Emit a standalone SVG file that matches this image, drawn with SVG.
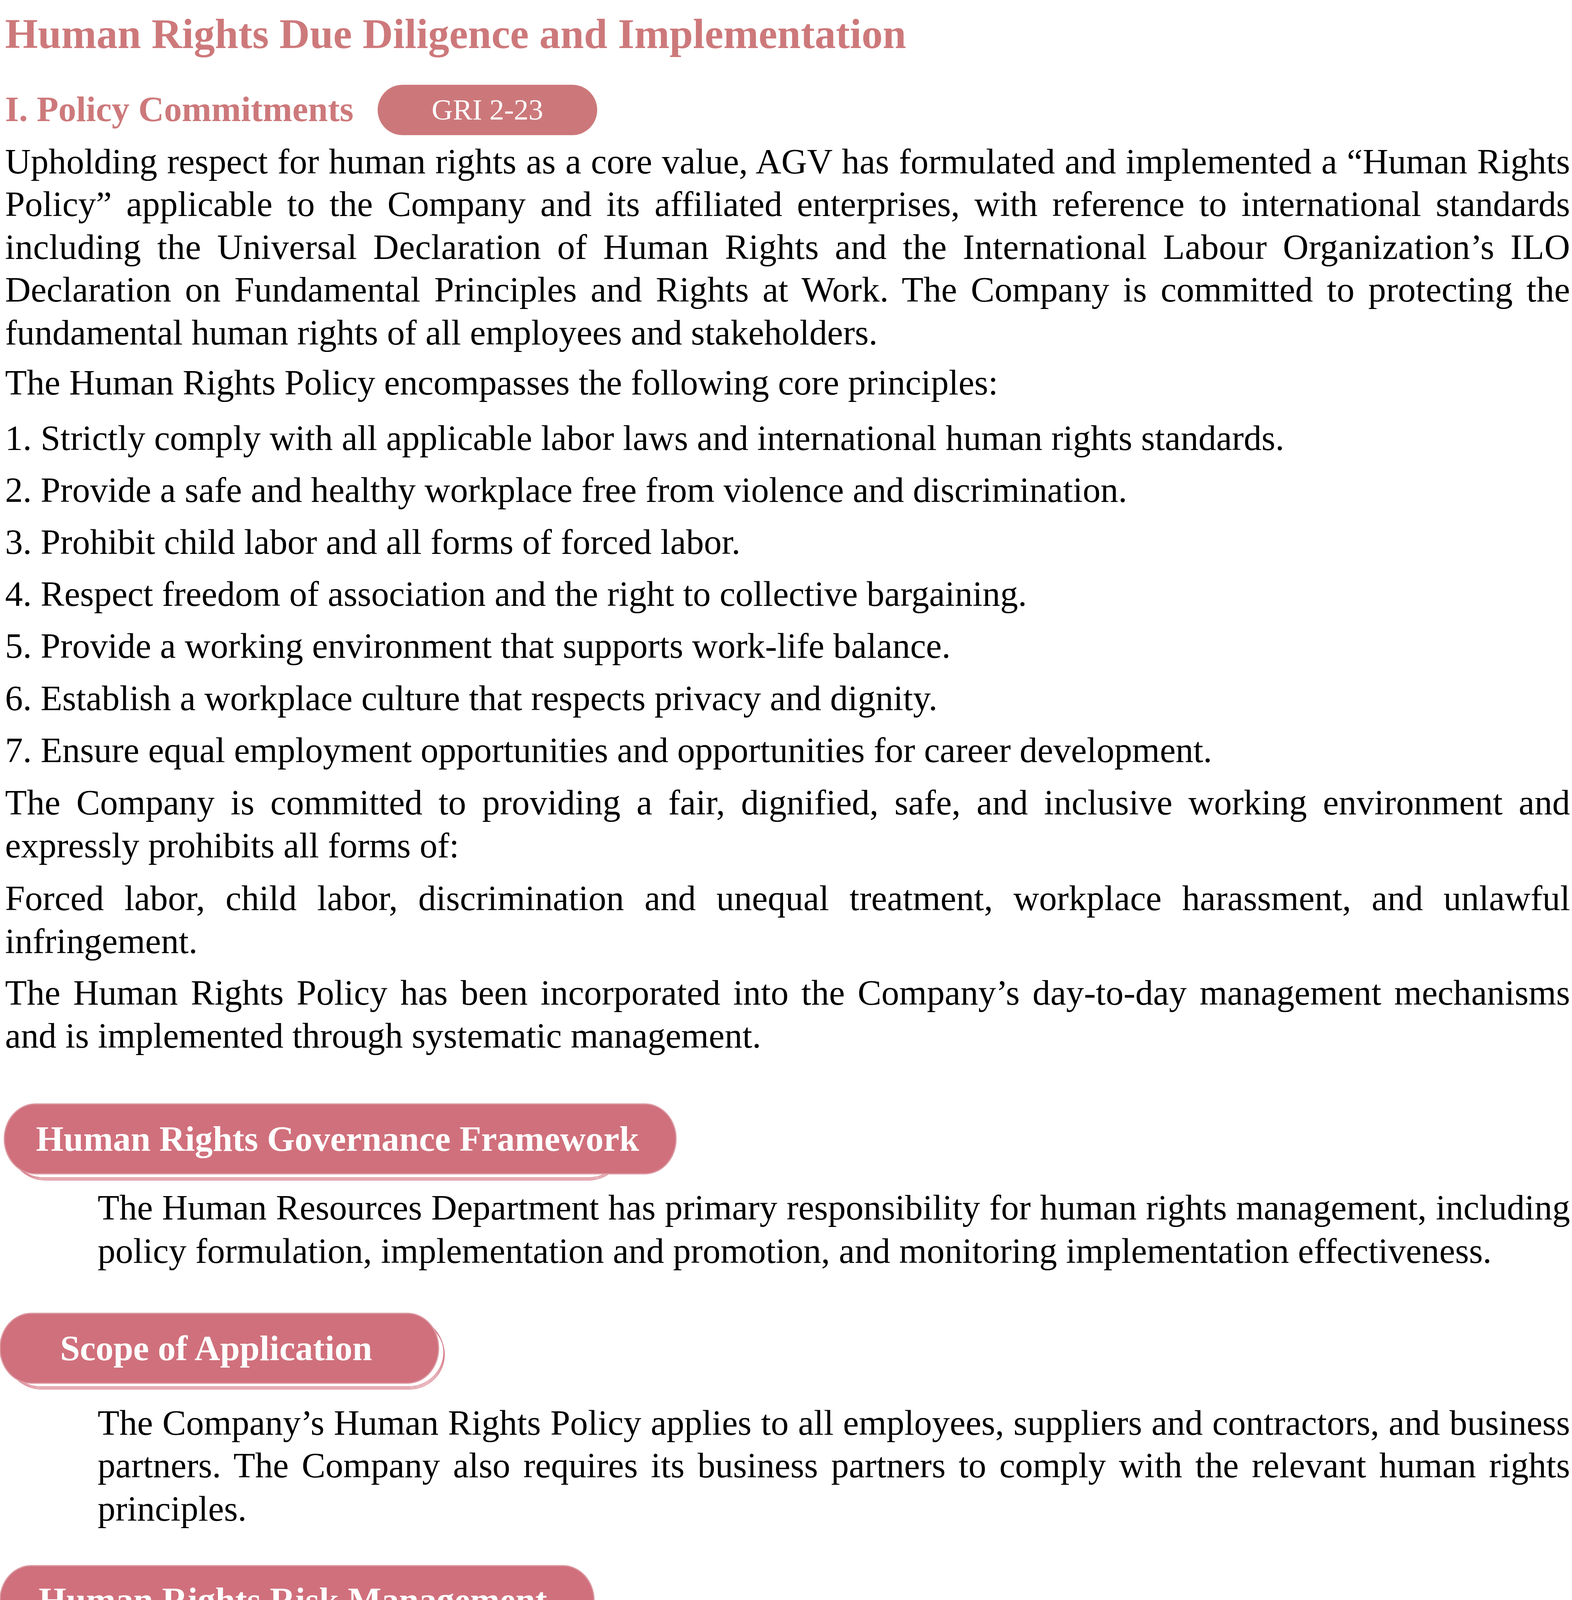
<svg xmlns="http://www.w3.org/2000/svg" width="4025" height="5148" viewBox="0 0 4025 5148">
<style>
text{font-family:"Liberation Serif","Times New Roman",serif}
.title{font-size:108px;font-weight:bold;fill:#cd797b}
.sec{font-size:91px;font-weight:bold;fill:#cd797b}
.body{font-size:91px;fill:#000}
.pilltxt{font-size:91px;font-weight:bold;fill:#fff}
.gri{font-size:75px;fill:#fff}
.pill{fill:#d0707c;stroke:#dc9ba4;stroke-width:3}
.back{fill:none;stroke:#d8828e;stroke-width:1.8}
</style>
<rect width="4025" height="5148" fill="#fff"/>
<g id="connectors"/>
<g id="title">
<text class="title" x="13" y="123">Human Rights Due Diligence and Implementation</text>
</g>
<g id="section-policy">
<text class="sec" x="13" y="310">I. Policy Commitments</text>
</g>
<g id="gri-badge">
<rect x="967" y="217" width="562" height="129" rx="64" ry="64" fill="#cc787b"/>
<text class="gri" x="1248" y="306" text-anchor="middle">GRI 2-23</text>
</g>
<g id="policy-text">
<text class="body" x="13" y="444" textLength="4007" lengthAdjust="spacing" style="word-spacing:2px">Upholding respect for human rights as a core value, AGV has formulated and implemented a “Human Rights</text>
<text class="body" x="13" y="553" textLength="4007" lengthAdjust="spacing" style="word-spacing:14.7px">Policy” applicable to the Company and its affiliated enterprises, with reference to international standards</text>
<text class="body" x="13" y="663" textLength="4007" lengthAdjust="spacing" style="word-spacing:17.6px">including the Universal Declaration of Human Rights and the International Labour Organization’s ILO</text>
<text class="body" x="13" y="772" textLength="4007" lengthAdjust="spacing" style="word-spacing:12.3px">Declaration on Fundamental Principles and Rights at Work. The Company is committed to protecting the</text>
<text class="body" x="13" y="882">fundamental human rights of all employees and stakeholders.</text>
<text class="body" x="13" y="1010">The Human Rights Policy encompasses the following core principles:</text>
<text class="body" x="13" y="1152">1. Strictly comply with all applicable labor laws and international human rights standards.</text>
<text class="body" x="13" y="1285">2. Provide a safe and healthy workplace free from violence and discrimination.</text>
<text class="body" x="13" y="1418">3. Prohibit child labor and all forms of forced labor.</text>
<text class="body" x="13" y="1551">4. Respect freedom of association and the right to collective bargaining.</text>
<text class="body" x="13" y="1684">5. Provide a working environment that supports work-life balance.</text>
<text class="body" x="13" y="1818">6. Establish a workplace culture that respects privacy and dignity.</text>
<text class="body" x="13" y="1951">7. Ensure equal employment opportunities and opportunities for career development.</text>
<text class="body" x="13" y="2085" textLength="4007" lengthAdjust="spacing" style="word-spacing:18.1px">The Company is committed to providing a fair, dignified, safe, and inclusive working environment and</text>
<text class="body" x="13" y="2195">expressly prohibits all forms of:</text>
<text class="body" x="13" y="2330" textLength="4007" lengthAdjust="spacing" style="word-spacing:29.5px">Forced labor, child labor, discrimination and unequal treatment, workplace harassment, and unlawful</text>
<text class="body" x="13" y="2440">infringement.</text>
<text class="body" x="13" y="2572" textLength="4007" lengthAdjust="spacing" style="word-spacing:10px">The Human Rights Policy has been incorporated into the Company’s day-to-day management mechanisms</text>
<text class="body" x="13" y="2682">and is implemented through systematic management.</text>
</g>
<g id="pill-governance">
<rect class="back" x="22" y="2840" width="1575" height="175" rx="90" ry="88"/>
<rect class="back" x="24" y="2843" width="1573" height="175" rx="90" ry="88"/>
<rect class="back" x="26" y="2846" width="1571" height="175" rx="90" ry="88"/>
<rect class="pill" x="11" y="2826" width="1720" height="179" rx="80" ry="89"/>
<text class="pilltxt" x="92" y="2946">Human Rights Governance Framework</text>
</g>
<g id="governance-text">
<text class="body" x="250" y="3122" textLength="3770" lengthAdjust="spacing" style="word-spacing:0.8px">The Human Resources Department has primary responsibility for human rights management, including</text>
<text class="body" x="250" y="3233">policy formulation, implementation and promotion, and monitoring implementation effectiveness.</text>
</g>
<g id="pill-scope">
<rect class="back" x="14" y="3374" width="1122" height="176" rx="90" ry="88"/>
<rect class="back" x="15" y="3377" width="1122" height="176" rx="90" ry="88"/>
<rect class="back" x="16" y="3380" width="1122" height="176" rx="90" ry="88"/>
<rect class="pill" x="0" y="3362" width="1123" height="179" rx="80" ry="89"/>
<text class="pilltxt" x="154" y="3482">Scope of Application</text>
</g>
<g id="scope-text">
<text class="body" x="250" y="3673" textLength="3770" lengthAdjust="spacing" style="word-spacing:1.3px">The Company’s Human Rights Policy applies to all employees, suppliers and contractors, and business</text>
<text class="body" x="250" y="3782" textLength="3770" lengthAdjust="spacing" style="word-spacing:10.6px">partners. The Company also requires its business partners to comply with the relevant human rights</text>
<text class="body" x="250" y="3893">principles.</text>
</g>
<g id="pill-risk">
<rect class="back" x="24" y="4022" width="1470" height="175" rx="90" ry="88"/>
<rect class="back" x="26" y="4025" width="1468" height="175" rx="90" ry="88"/>
<rect class="back" x="28" y="4028" width="1466" height="175" rx="90" ry="88"/>
<rect class="pill" x="0" y="4008" width="1521" height="179" rx="80" ry="89"/>
<text class="pilltxt" x="99" y="4127">Human Rights Risk Management</text>
</g>
<g id="risk-text">
<text class="body" x="250" y="4357" textLength="3770" lengthAdjust="spacing" style="word-spacing:16.8px">The Company incorporates human rights issues into its risk management framework and manages</text>
<text class="body" x="250" y="4465">them through the following measures:</text>
<text class="body" x="250" y="4600">• Periodically reviewing internal systems and compliance with applicable laws and regulations.</text>
<text class="body" x="250" y="4734">• Identifying high-risk operations or positions.</text>
<text class="body" x="250" y="4869">• Incorporating human rights issues into supply chain assessments.</text>
<text class="body" x="250" y="5002" textLength="3770" lengthAdjust="spacing" style="word-spacing:0.3px">No major human rights risk incidents have occurred to date, indicating a certain degree of effectiveness</text>
<text class="body" x="250" y="5109">in the Company’s management mechanisms.</text>
</g>
</svg>
